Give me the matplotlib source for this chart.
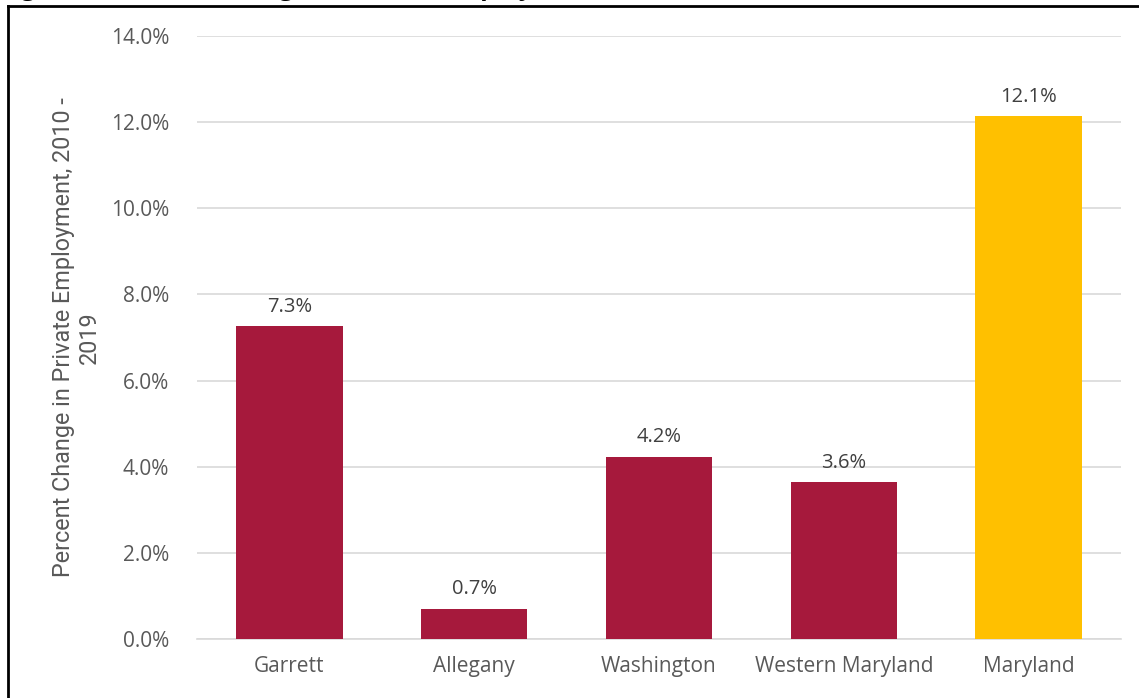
import matplotlib
matplotlib.use("Agg")
import matplotlib.pyplot as plt
from matplotlib.lines import Line2D

# data
regions = ["Garrett", "Allegany", "Washington", "Western Maryland", "Maryland"]
pct_change = [7.26, 0.70, 4.23, 3.64, 12.14]
bar_colors = ["#A6193C", "#A6193C", "#A6193C", "#A6193C", "#FFC000"]
y_ticks = [0, 2, 4, 6, 8, 10, 12, 14]

plt.rcParams["font.family"] = ["Open Sans", "DejaVu Sans"]
text_gray = "#595959"

fig = plt.figure(figsize=(11.39, 6.98), dpi=100)
ax = fig.add_axes([197 / 1139, 1 - 639 / 698, 924 / 1139, 603 / 698])

x = range(len(regions))
bars = ax.bar(x, pct_change, width=0.575, color=bar_colors, zorder=3)
for b, v in zip(bars, pct_change):
    ax.text(b.get_x() + b.get_width() / 2, v + 0.22, f"{v:.1f}%",
            ha="center", va="bottom", fontsize=14.5, color="#404040")

ax.set_xlim(-0.5, len(regions) - 0.5)
ax.set_ylim(0, 14)
ax.set_yticks(y_ticks)
ax.set_yticklabels([f"{t:.1f}%" for t in y_ticks], fontsize=15, color=text_gray)
ax.set_xticks(list(x))
ax.set_xticklabels(regions, fontsize=15, color=text_gray)
ax.tick_params(axis="y", length=0, pad=20)
ax.tick_params(axis="x", length=0, pad=12)
ax.grid(axis="y", color="#D9D9D9", linewidth=1.2, zorder=0)
for s in ["top", "right", "left"]:
    ax.spines[s].set_visible(False)
ax.spines["bottom"].set_color("#D9D9D9")
ax.spines["bottom"].set_linewidth(1.2)

ax.set_ylabel("Percent Change in Private Employment, 2010 -\n2019",
              fontsize=16.8, color=text_gray, labelpad=7, linespacing=1.15,
              family=["Roboto", "DejaVu Sans"])

# title, clipped by the top edge as in the reference
fig.text(0.0, 1.0 + 24 / 698, "Figure 5: Percent Change in Private Employment, 2010-2019",
         fontsize=18, fontweight="bold", ha="left", va="top", color="black")

# chart border
fig.add_artist(Line2D([8 / 1139, 8 / 1139], [0, 1 - 6 / 698], color="black", lw=2))
fig.add_artist(Line2D([8 / 1139, 1], [1 - 6 / 698, 1 - 6 / 698], color="black", lw=2))

fig.savefig("out.png", dpi=100)
